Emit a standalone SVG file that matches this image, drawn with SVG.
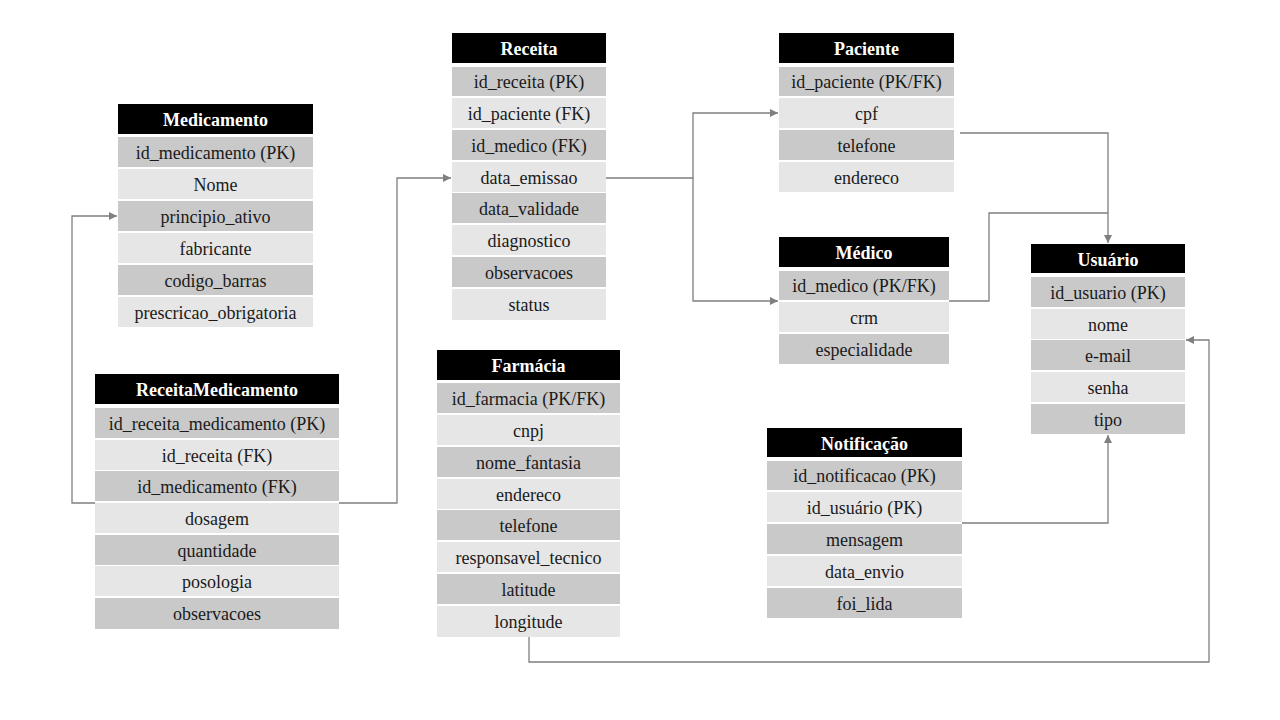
<svg xmlns="http://www.w3.org/2000/svg" width="1280" height="720" viewBox="0 0 1280 720" font-family="Liberation Serif, serif">
<defs>
<style>
.hd{fill:#000}
.ht{fill:#fff;font-size:18px;font-weight:bold;text-anchor:middle}
.dk{fill:#c9c9c9}
.lt{fill:#e6e6e6}
.rt{fill:#1a1a1a;font-size:18px;text-anchor:middle}
.cn{fill:none;stroke:#7f7f7f;stroke-width:1.3}
</style>
<marker id="ar" viewBox="0 0 10 10" refX="10" refY="5" markerWidth="8" markerHeight="8" markerUnits="userSpaceOnUse" orient="auto">
<path d="M0,0 L10,5 L0,10 z" fill="#7f7f7f"/>
</marker>
</defs>
<rect width="1280" height="720" fill="#fff"/>

<g id="connectors">
<path class="cn" d="M95,503 H72 V216 H117" marker-end="url(#ar)"/>
<path class="cn" d="M339,503 H397 V178 H451" marker-end="url(#ar)"/>
<path class="cn" d="M606,178 H693 V113 H778" marker-end="url(#ar)"/>
<path class="cn" d="M693,178 V301 H778" marker-end="url(#ar)"/>
<path class="cn" d="M960,133 H1108 V243" marker-end="url(#ar)"/>
<path class="cn" d="M949,301 H989 V213 H1108"/>
<path class="cn" d="M962,523 H1108 V435" marker-end="url(#ar)"/>
<path class="cn" d="M529,637 V662 H1209 V340 H1186" marker-end="url(#ar)"/>
</g>

<g id="medicamento">
<rect class="hd" x="118" y="104" width="195" height="30"/>
<text class="ht" x="215.5" y="126">Medicamento</text>
<rect class="dk" x="118" y="137" width="195" height="30"/><text class="rt" x="215.5" y="159">id_medicamento (PK)</text>
<rect class="lt" x="118" y="169" width="195" height="30"/><text class="rt" x="215.5" y="191">Nome</text>
<rect class="dk" x="118" y="201" width="195" height="30"/><text class="rt" x="215.5" y="223">principio_ativo</text>
<rect class="lt" x="118" y="233" width="195" height="30"/><text class="rt" x="215.5" y="255">fabricante</text>
<rect class="dk" x="118" y="265" width="195" height="30"/><text class="rt" x="215.5" y="287">codigo_barras</text>
<rect class="lt" x="118" y="297" width="195" height="30"/><text class="rt" x="215.5" y="319">prescricao_obrigatoria</text>
</g>

<g id="receitamedicamento">
<rect class="hd" x="95" y="374" width="244" height="30"/>
<text class="ht" x="217" y="396">ReceitaMedicamento</text>
<rect class="dk" x="95" y="408" width="244" height="30"/><text class="rt" x="217" y="430">id_receita_medicamento (PK)</text>
<rect class="lt" x="95" y="440" width="244" height="30"/><text class="rt" x="217" y="462">id_receita (FK)</text>
<rect class="dk" x="95" y="471" width="244" height="30"/><text class="rt" x="217" y="493">id_medicamento (FK)</text>
<rect class="lt" x="95" y="503" width="244" height="30"/><text class="rt" x="217" y="525">dosagem</text>
<rect class="dk" x="95" y="535" width="244" height="30"/><text class="rt" x="217" y="557">quantidade</text>
<rect class="lt" x="95" y="566" width="244" height="30"/><text class="rt" x="217" y="588">posologia</text>
<rect class="dk" x="95" y="598" width="244" height="31"/><text class="rt" x="217" y="620">observacoes</text>
</g>

<g id="receita">
<rect class="hd" x="452" y="33" width="154" height="30"/>
<text class="ht" x="529" y="55">Receita</text>
<rect class="dk" x="452" y="67" width="154" height="29"/><text class="rt" x="529" y="88">id_receita (PK)</text>
<rect class="lt" x="452" y="98" width="154" height="30"/><text class="rt" x="529" y="120">id_paciente (FK)</text>
<rect class="dk" x="452" y="130" width="154" height="30"/><text class="rt" x="529" y="152">id_medico (FK)</text>
<rect class="lt" x="452" y="162" width="154" height="30"/><text class="rt" x="529" y="184">data_emissao</text>
<rect class="dk" x="452" y="193" width="154" height="30"/><text class="rt" x="529" y="215">data_validade</text>
<rect class="lt" x="452" y="225" width="154" height="30"/><text class="rt" x="529" y="247">diagnostico</text>
<rect class="dk" x="452" y="257" width="154" height="30"/><text class="rt" x="529" y="279">observacoes</text>
<rect class="lt" x="452" y="289" width="154" height="31"/><text class="rt" x="529" y="311">status</text>
</g>

<g id="farmacia">
<rect class="hd" x="437" y="350" width="183" height="30"/>
<text class="ht" x="528.5" y="372">Farmácia</text>
<rect class="dk" x="437" y="383" width="183" height="30"/><text class="rt" x="528.5" y="405">id_farmacia (PK/FK)</text>
<rect class="lt" x="437" y="415" width="183" height="30"/><text class="rt" x="528.5" y="437">cnpj</text>
<rect class="dk" x="437" y="447" width="183" height="30"/><text class="rt" x="528.5" y="469">nome_fantasia</text>
<rect class="lt" x="437" y="479" width="183" height="30"/><text class="rt" x="528.5" y="501">endereco</text>
<rect class="dk" x="437" y="510" width="183" height="30"/><text class="rt" x="528.5" y="532">telefone</text>
<rect class="lt" x="437" y="542" width="183" height="30"/><text class="rt" x="528.5" y="564">responsavel_tecnico</text>
<rect class="dk" x="437" y="574" width="183" height="30"/><text class="rt" x="528.5" y="596">latitude</text>
<rect class="lt" x="437" y="606" width="183" height="31"/><text class="rt" x="528.5" y="628">longitude</text>
</g>

<g id="paciente">
<rect class="hd" x="779" y="33" width="175" height="30"/>
<text class="ht" x="866.5" y="55">Paciente</text>
<rect class="dk" x="779" y="67" width="175" height="29"/><text class="rt" x="866.5" y="88">id_paciente (PK/FK)</text>
<rect class="lt" x="779" y="98" width="175" height="30"/><text class="rt" x="866.5" y="120">cpf</text>
<rect class="dk" x="779" y="130" width="175" height="30"/><text class="rt" x="866.5" y="152">telefone</text>
<rect class="lt" x="779" y="162" width="175" height="30"/><text class="rt" x="866.5" y="184">endereco</text>
</g>

<g id="medico">
<rect class="hd" x="779" y="237" width="170" height="30"/>
<text class="ht" x="864" y="259">Médico</text>
<rect class="dk" x="779" y="271" width="170" height="29"/><text class="rt" x="864" y="292">id_medico (PK/FK)</text>
<rect class="lt" x="779" y="302" width="170" height="30"/><text class="rt" x="864" y="324">crm</text>
<rect class="dk" x="779" y="334" width="170" height="30"/><text class="rt" x="864" y="356">especialidade</text>
</g>

<g id="usuario">
<rect class="hd" x="1031" y="244" width="154" height="29"/>
<text class="ht" x="1108" y="266">Usuário</text>
<rect class="dk" x="1031" y="277" width="154" height="30"/><text class="rt" x="1108" y="299">id_usuario (PK)</text>
<rect class="lt" x="1031" y="309" width="154" height="30"/><text class="rt" x="1108" y="331">nome</text>
<rect class="dk" x="1031" y="340" width="154" height="30"/><text class="rt" x="1108" y="362">e-mail</text>
<rect class="lt" x="1031" y="372" width="154" height="30"/><text class="rt" x="1108" y="394">senha</text>
<rect class="dk" x="1031" y="404" width="154" height="30"/><text class="rt" x="1108" y="426">tipo</text>
</g>

<g id="notificacao">
<rect class="hd" x="767" y="428" width="195" height="29"/>
<text class="ht" x="864.5" y="450">Notificação</text>
<rect class="dk" x="767" y="461" width="195" height="29"/><text class="rt" x="864.5" y="482">id_notificacao (PK)</text>
<rect class="lt" x="767" y="492" width="195" height="30"/><text class="rt" x="864.5" y="514">id_usuário (PK)</text>
<rect class="dk" x="767" y="524" width="195" height="30"/><text class="rt" x="864.5" y="546">mensagem</text>
<rect class="lt" x="767" y="556" width="195" height="30"/><text class="rt" x="864.5" y="578">data_envio</text>
<rect class="dk" x="767" y="588" width="195" height="30"/><text class="rt" x="864.5" y="610">foi_lida</text>
</g>
</svg>
